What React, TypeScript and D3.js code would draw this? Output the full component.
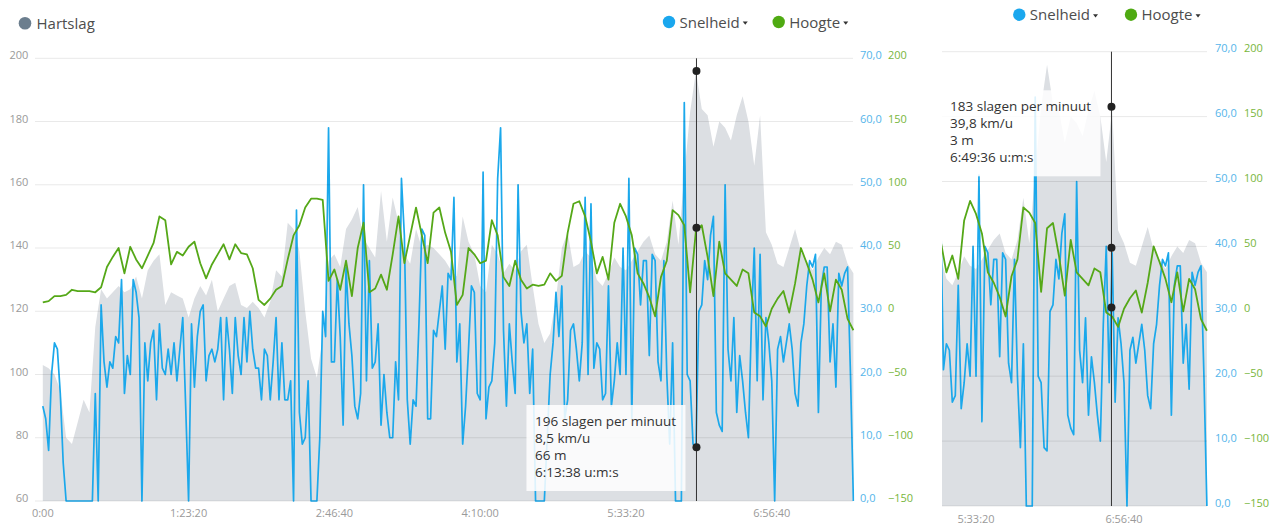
import { useEffect, useRef } from 'react';
import * as d3 from 'd3';

// sample spacing in seconds
const SPEED_STEP = 100;
const SLOW_STEP = 200;

// km/u, one sample every 100 s
const speedKmh = [
  15, 13, 8, 20, 25, 24, 17, 6, 0, 0,
  0, 0, 0, 0, 0, 0, 0, 0, 17, 0,
  31, 22, 18, 22, 21, 26, 25, 35, 17, 23,
  20, 35, 33, 29, 0, 25, 19, 25, 27, 16,
  28, 21, 20, 24, 20, 25, 19, 24, 29, 15,
  0, 28, 18, 26, 30, 31, 19, 23, 24, 22,
  24, 29, 16, 29, 24, 17, 29, 23, 20, 29,
  22, 30, 24, 21, 21, 16, 24, 23, 16, 22,
  29, 16, 25, 16, 16, 19, 0, 46, 14, 9,
  10, 19, 0, 0, 0, 10, 30, 26, 59, 22,
  22, 35, 26, 12, 37, 28, 23, 15, 13, 17,
  50, 19, 38, 21, 22, 28, 12, 20, 14, 10,
  10, 22, 16, 51, 42, 16, 9, 16, 15, 28,
  43, 42, 13, 13, 27, 26, 30, 34, 24, 36,
  35, 48, 22, 28, 9, 15, 24, 34, 33, 17,
  16, 52, 13, 18, 19, 25, 51, 59, 27, 15,
  28, 22, 17, 50, 30, 25, 28, 17, 24, 0,
  0, 0, 0, 10, 20, 25, 33, 26, 34, 13,
  16, 27, 28, 24, 19, 25, 48, 20, 47, 21,
  25, 24, 16, 17, 34, 15, 19, 25, 20, 40,
  20, 51, 13, 40, 39, 31, 38, 38, 23, 39,
  38, 22, 19, 38, 20, 9, 25, 0, 0, 0,
  63, 20, 19, 9, 8.5, 30, 31, 38, 35, 42,
  45, 14, 12, 11, 50, 24, 19, 29, 14, 23,
  19, 14, 10, 28, 40, 19, 39, 16, 29, 25,
  19, 0, 24, 26, 22, 25, 28, 24, 17, 15,
  25, 28, 34, 38, 37, 39, 14, 34, 37, 37,
  22, 28, 18, 36, 34, 36, 37, 20, 0,
];

// slagen per minuut, one sample every 200 s
const heartRate = [
  103, 102, 100, 95, 80, 78, 85, 92, 88, 115,
  127, 124, 126, 128, 126, 127, 131, 124, 133, 136,
  138, 122, 126, 125, 124, 118, 124, 128, 125, 130,
  120, 124, 128, 129, 122, 121, 123, 121, 118, 123,
  133, 131, 148, 146, 139, 120, 105, 99, 112, 136,
  138, 134, 146, 149, 153, 143, 140, 137, 158, 142,
  156, 148, 138, 135, 146, 140, 141, 140, 138, 136,
  133, 131, 150, 142, 138, 128, 126, 141, 138, 132,
  135, 133, 139, 141, 128, 116, 110, 113, 124, 140,
  145, 134, 135, 139, 137, 130, 128, 132, 137, 134,
  133, 136, 139, 142, 144, 138, 136, 142, 155, 141,
  163, 183, 196, 184, 182, 172, 180, 178, 174, 182,
  188, 180, 166, 182, 145, 141, 135, 134, 140, 146,
  139, 136, 133, 137, 140, 138, 142, 141, 135, 132,
];

// meters, one sample every 200 s
const altitude = [
  7, 8, 12, 12, 13, 17, 16, 16, 16, 15,
  19, 35, 43, 50, 30, 51, 41, 34, 44, 54,
  75, 72, 37, 47, 44, 51, 55, 38, 26, 37,
  45, 53, 41, 53, 46, 45, 34, 9, 5, 10,
  17, 20, 41, 60, 68, 82, 89, 89, 88, 24,
  33, 17, 40, 12, 50, 70, 15, 18, 29, 17,
  45, 75, 38, 60, 82, 60, 38, 78, 82, 62,
  47, 5, 13, 50, 45, 38, 40, 72, 60, 27,
  20, 40, 25, 18, 21, 20, 21, 30, 24, 28,
  62, 85, 87, 75, 55, 30, 43, 25, 70, 85,
  75, 60, 30, 22, 11, -4, 27, 40, 80, 76,
  68, 15, 64, 68, 43, 12, 55, 30, 25, 20,
  33, 30, -1, -4, -12, 2, 10, 16, -1, 22,
  50, 38, 25, 7, 30, 0, 25, 17, -6, -15,
];

const hrTicks = [60, 80, 100, 120, 140, 160, 180, 200];
const speedTicks = [0, 10, 20, 30, 40, 50, 60, 70];
const altTicks = [-150, -100, -50, 0, 50, 100, 150, 200];
const timeTicks = [0, 5000, 10000, 15000, 20000, 25000];

// hovered point shown in each panel
const tipTime = [22418, 24576];
const tipHR = [196, 183];
const tipSpeed = [8.5, 39.8];
const tipAlt = [66, 3];

function fmtTime(sec: number): string {
  const h = Math.floor(sec / 3600);
  const m = Math.floor((sec % 3600) / 60);
  const s = Math.floor(sec % 60);
  const pad = (n: number) => n.toString().padStart(2, '0');
  return h > 0 ? `${h}:${pad(m)}:${pad(s)}` : `${m}:${pad(s)}`;
}

const comma = (v: number, digits: number) => d3.format(`.${digits}f`)(v).replace('.', ',');

export default function App() {
  const svgRef = useRef<SVGSVGElement>(null);

  useEffect(() => {
    if (!svgRef.current) return;
    const svg = d3.select(svgRef.current);
    svg.selectAll('*').remove();

    const font = "'Open Sans', sans-serif";
    const blue = '#1ba8eb';
    const green = '#55a818';

    const panels = [
      {
        gridX: [35, 853], top: 58.3, bottom: 501, domain: [0, 27800], range: [42.8, 853.4],
        hrLabels: true, spdLabelX: 860, altLabelX: 888, labelDy: 1, tickY: 517,
        legendY: 22, snelheidX: 669, hoogteX: 778.7, tipTop: 405,
      },
      {
        gridX: [942, 1207], top: 51.7, bottom: 506, domain: [18850, 27800], range: [941.96, 1206.9],
        hrLabels: false, spdLabelX: 1215, altLabelX: 1244, labelDy: 0.6, tickY: 523,
        legendY: 14.7, snelheidX: 1019.3, hoogteX: 1131, tipTop: 90.3,
      },
    ];

    const defs = svg.append('defs');

    panels.forEach((p, pi) => {
      const x = d3.scaleLinear().domain(p.domain).range(p.range);
      const yHR = d3.scaleLinear().domain([60, 200]).range([p.bottom, p.top]);
      const ySpd = d3.scaleLinear().domain([0, 70]).range([p.bottom, p.top]);
      const yAlt = d3.scaleLinear().domain([-150, 200]).range([p.bottom, p.top]);

      const clipId = `plot-clip-${pi}`;
      defs.append('clipPath').attr('id', clipId)
        .append('rect')
        .attr('x', p.gridX[0])
        .attr('y', p.top - 3)
        .attr('width', p.gridX[1] - p.gridX[0] + 1.5)
        .attr('height', p.bottom - p.top + 4);

      const g = svg.append('g');
      const plot = g.append('g').attr('clip-path', `url(#${clipId})`);

      // heart rate area
      const area = d3.area<number>()
        .x((_, i) => x(i * SLOW_STEP))
        .y0(p.bottom)
        .y1(d => yHR(d));
      plot.append('path')
        .datum(heartRate)
        .attr('d', area)
        .attr('fill', '#dcdfe3');

      // grid
      g.append('g')
        .selectAll('line')
        .data(hrTicks)
        .join('line')
        .attr('x1', p.gridX[0])
        .attr('x2', p.gridX[1])
        .attr('y1', d => yHR(d))
        .attr('y2', d => yHR(d))
        .attr('stroke', '#000')
        .attr('stroke-opacity', 0.09)
        .attr('stroke-width', 1);

      const speedLine = d3.line<number>()
        .x((_, i) => x(i * SPEED_STEP))
        .y(d => ySpd(d));
      plot.append('path')
        .datum(speedKmh)
        .attr('d', speedLine)
        .attr('fill', 'none')
        .attr('stroke', blue)
        .attr('stroke-width', 1.7)
        .attr('stroke-linejoin', 'round');

      const altLine = d3.line<number>()
        .x((_, i) => x(i * SLOW_STEP))
        .y(d => yAlt(d));
      plot.append('path')
        .datum(altitude)
        .attr('d', altLine)
        .attr('fill', 'none')
        .attr('stroke', green)
        .attr('stroke-width', 1.8)
        .attr('stroke-linejoin', 'round');

      // axis labels
      if (p.hrLabels) {
        g.append('g')
          .selectAll('text')
          .data(hrTicks)
          .join('text')
          .attr('x', 28.3)
          .attr('y', d => yHR(d) + p.labelDy)
          .attr('text-anchor', 'end')
          .attr('font-family', font)
          .attr('font-size', '11px')
          .attr('fill', '#9a9a9a')
          .text(d => d);
      }

      g.append('g')
        .selectAll('text')
        .data(speedTicks)
        .join('text')
        .attr('x', p.spdLabelX)
        .attr('y', d => ySpd(d) + p.labelDy)
        .attr('font-family', font)
        .attr('font-size', '11px')
        .attr('fill', '#55b5ea')
        .text(d => comma(d, 1));

      g.append('g')
        .selectAll('text')
        .data(altTicks)
        .join('text')
        .attr('x', p.altLabelX)
        .attr('y', d => yAlt(d) + p.labelDy)
        .attr('font-family', font)
        .attr('font-size', '11px')
        .attr('fill', '#78b63c')
        .text(d => d3.format('d')(d));

      g.append('g')
        .selectAll('text')
        .data(timeTicks.filter(t => t >= p.domain[0] && t <= p.domain[1]))
        .join('text')
        .attr('x', d => x(d))
        .attr('y', p.tickY)
        .attr('text-anchor', 'middle')
        .attr('font-family', font)
        .attr('font-size', '11px')
        .attr('fill', '#9a9a9a')
        .text(d => fmtTime(d));

      // legend
      const legend = g.append('g').attr('font-family', font).attr('font-size', '15px').attr('fill', '#4d4d4d');
      const caret = (cx: number, cy: number) =>
        `M${cx - 2.5},${cy - 1.5}L${cx + 2.5},${cy - 1.5}L${cx},${cy + 1.7}Z`;
      if (pi === 0) {
        legend.append('circle').attr('cx', 25).attr('cy', 23.3).attr('r', 6.3).attr('fill', '#6b7e8e');
        legend.append('text').attr('x', 36.5).attr('y', 29).text('Hartslag');
      }
      const items = [
        { name: 'Snelheid', cx: p.snelheidX, color: '#1aa7ee' },
        { name: 'Hoogte', cx: p.hoogteX, color: '#4faa12' },
      ];
      items.forEach(it => {
        legend.append('circle').attr('cx', it.cx).attr('cy', p.legendY).attr('r', 6.2).attr('fill', it.color);
        const txt = legend.append('text')
          .attr('x', it.cx + 10.5)
          .attr('y', p.legendY + 5.5)
          .text(it.name);
        const w = (txt.node() as SVGTextElement).getComputedTextLength();
        legend.append('path')
          .attr('d', caret(it.cx + 10.5 + w + 5.5, p.legendY + 1))
          .attr('fill', '#333');
      });

      // crosshair + markers
      const cx = x(tipTime[pi]);
      g.append('line')
        .attr('x1', cx).attr('x2', cx)
        .attr('y1', p.top).attr('y2', p.bottom)
        .attr('stroke', '#333')
        .attr('stroke-width', 1);
      [yHR(tipHR[pi]), ySpd(tipSpeed[pi]), yAlt(tipAlt[pi])].forEach(cy => {
        g.append('circle').attr('cx', cx).attr('cy', cy).attr('r', 4).attr('fill', '#222');
      });

      // tooltip
      const boxW = 159;
      const boxH = 86;
      const boxX = cx - 11 - boxW;
      g.append('rect')
        .attr('x', boxX)
        .attr('y', p.tipTop)
        .attr('width', boxW)
        .attr('height', boxH)
        .attr('fill', '#fff')
        .attr('fill-opacity', 0.85);
      const lines = [
        `${tipHR[pi]} slagen per minuut`,
        `${comma(tipSpeed[pi], 1)} km/u`,
        `${tipAlt[pi]} m`,
        `${fmtTime(tipTime[pi])} u:m:s`,
      ];
      g.append('g')
        .selectAll('text')
        .data(lines)
        .join('text')
        .attr('x', boxX + 8.6)
        .attr('y', (_, i) => p.tipTop + 21 + i * 17)
        .attr('font-family', font)
        .attr('font-size', '13.5px')
        .attr('fill', '#333')
        .text(d => d);
    });
  }, []);

  return (
    <div style={{ position: 'absolute', left: 0, top: 0 }}>
      <svg ref={svgRef} width={1281} height={526} style={{ display: 'block' }} />
    </div>
  );
}
